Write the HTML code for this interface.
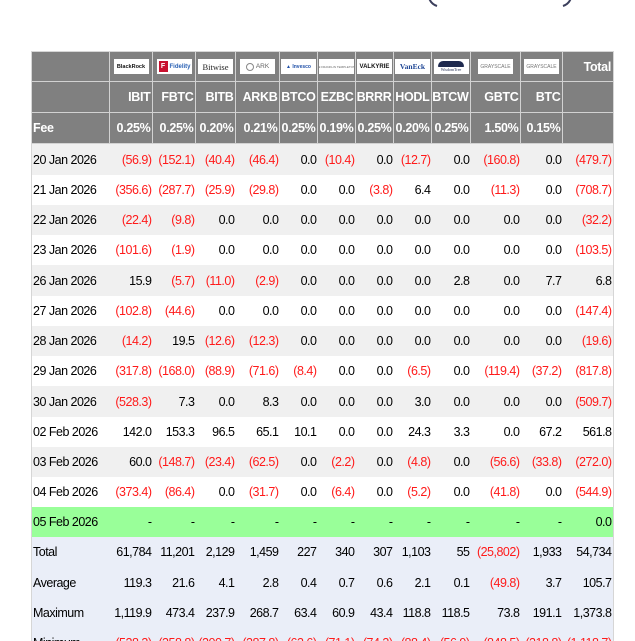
<!DOCTYPE html>
<html><head><meta charset="utf-8">
<style>
html,body{margin:0;padding:0;background:#fff;overflow:hidden;width:635px;height:641px;}
#wrap{position:relative;width:635px;height:641px;overflow:hidden;font-family:"Liberation Sans",Arial,sans-serif;font-size:12.5px;letter-spacing:-0.5px;color:#000;background:#fff;}
.row{position:absolute;left:31px;width:583px;display:flex;box-sizing:border-box;border-left:1px solid #d6d6d6;}
.c{box-sizing:border-box;flex:none;text-align:right;padding-right:1.5px;white-space:nowrap;overflow:visible;display:flex;align-items:center;justify-content:flex-end;}
.c:first-child{justify-content:flex-start;padding-left:1px;}
.c:last-child{border-right:1px solid #d6d6d6;}
.w0{width:78px}.w1{width:43px}.w2{width:43px}.w3{width:40px}.w4{width:44px}.w5{width:38px}.w6{width:38px}.w7{width:38px}.w8{width:38px}.w9{width:39px}.w10{width:50px}.w11{width:42px}.w12{width:51px}
.h{background:#808080;color:#fff;font-weight:bold;font-size:12.5px;letter-spacing:-0.3px;}
.h .c{border-right:1px solid #d2d2d2;border-bottom:1px solid #d2d2d2;}
.h .c:last-child{border-right:1px solid #d6d6d6;}
.g{background:#f0f0f0;}
.wt{background:#fff;}
.gr{background:#99ff99;}
.s{background:#eaeef8;}
.r{color:#ff1a1a;}
.logo .c{justify-content:center;padding:0;}
.logo .c:last-child{justify-content:flex-end;padding-right:2px;}
.lg{width:35px;height:15px;background:#fff;display:flex;align-items:center;justify-content:center;overflow:hidden;font-weight:bold;letter-spacing:0;}
</style></head><body>
<div id="wrap">
<svg width="635" height="12" style="position:absolute;left:0;top:0">
<path d="M429,-2 Q431,4 437,6" stroke="#3b3f5c" stroke-width="2" fill="none"/>
<path d="M571,-2 Q569,4 563,6" stroke="#3b3f5c" stroke-width="2" fill="none"/>
</svg>

<div class="row h logo" style="top:51px;height:31px;border-top:1px solid #d6d6d6;">
<div class="c w0"></div>
<div class="c w1"><div class="lg" style="font-size:5.5px;color:#111;">BlackRock</div></div>
<div class="c w2"><div class="lg" style="justify-content:flex-start;"><span style="display:inline-block;width:9px;height:11px;background:#c8102e;color:#fff;font-size:7px;text-align:center;line-height:11px;margin-left:2px;">F</span><span style="font-size:6px;color:#2a62b5;margin-left:2px;">Fidelity</span></div></div>
<div class="c w3"><div class="lg" style="font-family:'Liberation Serif',serif;font-weight:normal;font-size:8.5px;color:#222;">Bitwise</div></div>
<div class="c w4"><div class="lg" style="font-size:6.5px;color:#666;font-weight:normal;"><span style="display:inline-block;width:8px;height:8px;border:1px solid #888;border-radius:50%;margin-right:2px;box-sizing:border-box;"></span>ARK</div></div>
<div class="c w5"><div class="lg" style="font-size:5px;color:#2050a8;">▲ Invesco</div></div>
<div class="c w6"><div class="lg" style="font-size:3px;color:#666;font-weight:normal;">⊞ FRANKLIN TEMPLETON</div></div>
<div class="c w7"><div class="lg" style="font-size:6px;color:#111;">VALKYRIE</div></div>
<div class="c w8"><div class="lg" style="font-family:'Liberation Serif',serif;font-size:7.5px;color:#1d4594;">VanEck</div></div>
<div class="c w9"><div class="lg" style="flex-direction:column;"><span style="display:block;width:26px;height:6px;background:#1f2a4f;border-radius:6px 6px 1px 1px;"></span><span style="font-family:'Liberation Serif',serif;font-size:4px;color:#1f2a4f;font-weight:normal;">WisdomTree</span></div></div>
<div class="c w10"><div class="lg" style="font-size:5px;color:#777;font-weight:normal;">GRAYSCALE</div></div>
<div class="c w11"><div class="lg" style="font-size:5px;color:#777;font-weight:normal;">GRAYSCALE</div></div>
<div class="c w12">Total</div>
</div>

<div class="row h" style="top:82px;height:31px;">
<div class="c w0"></div><div class="c w1">IBIT</div><div class="c w2">FBTC</div><div class="c w3">BITB</div><div class="c w4">ARKB</div><div class="c w5">BTCO</div><div class="c w6">EZBC</div><div class="c w7">BRRR</div><div class="c w8">HODL</div><div class="c w9">BTCW</div><div class="c w10">GBTC</div><div class="c w11">BTC</div><div class="c w12"></div>
</div>
<div class="row h" style="top:113px;height:31px;">
<div class="c w0">Fee</div><div class="c w1">0.25%</div><div class="c w2">0.25%</div><div class="c w3">0.20%</div><div class="c w4">0.21%</div><div class="c w5">0.25%</div><div class="c w6">0.19%</div><div class="c w7">0.25%</div><div class="c w8">0.20%</div><div class="c w9">0.25%</div><div class="c w10">1.50%</div><div class="c w11">0.15%</div><div class="c w12"></div>
</div>

<div class="row g" style="top:144px;height:31px;"><div class="c w0">20 Jan 2026</div><div class="c w1 r">(56.9)</div><div class="c w2 r">(152.1)</div><div class="c w3 r">(40.4)</div><div class="c w4 r">(46.4)</div><div class="c w5">0.0</div><div class="c w6 r">(10.4)</div><div class="c w7">0.0</div><div class="c w8 r">(12.7)</div><div class="c w9">0.0</div><div class="c w10 r">(160.8)</div><div class="c w11">0.0</div><div class="c w12 r">(479.7)</div></div>
<div class="row wt" style="top:175px;height:30px;"><div class="c w0">21 Jan 2026</div><div class="c w1 r">(356.6)</div><div class="c w2 r">(287.7)</div><div class="c w3 r">(25.9)</div><div class="c w4 r">(29.8)</div><div class="c w5">0.0</div><div class="c w6">0.0</div><div class="c w7 r">(3.8)</div><div class="c w8">6.4</div><div class="c w9">0.0</div><div class="c w10 r">(11.3)</div><div class="c w11">0.0</div><div class="c w12 r">(708.7)</div></div>
<div class="row g" style="top:205px;height:30px;"><div class="c w0">22 Jan 2026</div><div class="c w1 r">(22.4)</div><div class="c w2 r">(9.8)</div><div class="c w3">0.0</div><div class="c w4">0.0</div><div class="c w5">0.0</div><div class="c w6">0.0</div><div class="c w7">0.0</div><div class="c w8">0.0</div><div class="c w9">0.0</div><div class="c w10">0.0</div><div class="c w11">0.0</div><div class="c w12 r">(32.2)</div></div>
<div class="row wt" style="top:235px;height:30px;"><div class="c w0">23 Jan 2026</div><div class="c w1 r">(101.6)</div><div class="c w2 r">(1.9)</div><div class="c w3">0.0</div><div class="c w4">0.0</div><div class="c w5">0.0</div><div class="c w6">0.0</div><div class="c w7">0.0</div><div class="c w8">0.0</div><div class="c w9">0.0</div><div class="c w10">0.0</div><div class="c w11">0.0</div><div class="c w12 r">(103.5)</div></div>
<div class="row g" style="top:265px;height:31px;"><div class="c w0">26 Jan 2026</div><div class="c w1">15.9</div><div class="c w2 r">(5.7)</div><div class="c w3 r">(11.0)</div><div class="c w4 r">(2.9)</div><div class="c w5">0.0</div><div class="c w6">0.0</div><div class="c w7">0.0</div><div class="c w8">0.0</div><div class="c w9">2.8</div><div class="c w10">0.0</div><div class="c w11">7.7</div><div class="c w12">6.8</div></div>
<div class="row wt" style="top:296px;height:30px;"><div class="c w0">27 Jan 2026</div><div class="c w1 r">(102.8)</div><div class="c w2 r">(44.6)</div><div class="c w3">0.0</div><div class="c w4">0.0</div><div class="c w5">0.0</div><div class="c w6">0.0</div><div class="c w7">0.0</div><div class="c w8">0.0</div><div class="c w9">0.0</div><div class="c w10">0.0</div><div class="c w11">0.0</div><div class="c w12 r">(147.4)</div></div>
<div class="row g" style="top:326px;height:30px;"><div class="c w0">28 Jan 2026</div><div class="c w1 r">(14.2)</div><div class="c w2">19.5</div><div class="c w3 r">(12.6)</div><div class="c w4 r">(12.3)</div><div class="c w5">0.0</div><div class="c w6">0.0</div><div class="c w7">0.0</div><div class="c w8">0.0</div><div class="c w9">0.0</div><div class="c w10">0.0</div><div class="c w11">0.0</div><div class="c w12 r">(19.6)</div></div>
<div class="row wt" style="top:356px;height:30px;"><div class="c w0">29 Jan 2026</div><div class="c w1 r">(317.8)</div><div class="c w2 r">(168.0)</div><div class="c w3 r">(88.9)</div><div class="c w4 r">(71.6)</div><div class="c w5 r">(8.4)</div><div class="c w6">0.0</div><div class="c w7">0.0</div><div class="c w8 r">(6.5)</div><div class="c w9">0.0</div><div class="c w10 r">(119.4)</div><div class="c w11 r">(37.2)</div><div class="c w12 r">(817.8)</div></div>
<div class="row g" style="top:386px;height:31px;"><div class="c w0">30 Jan 2026</div><div class="c w1 r">(528.3)</div><div class="c w2">7.3</div><div class="c w3">0.0</div><div class="c w4">8.3</div><div class="c w5">0.0</div><div class="c w6">0.0</div><div class="c w7">0.0</div><div class="c w8">3.0</div><div class="c w9">0.0</div><div class="c w10">0.0</div><div class="c w11">0.0</div><div class="c w12 r">(509.7)</div></div>
<div class="row wt" style="top:417px;height:30px;"><div class="c w0">02 Feb 2026</div><div class="c w1">142.0</div><div class="c w2">153.3</div><div class="c w3">96.5</div><div class="c w4">65.1</div><div class="c w5">10.1</div><div class="c w6">0.0</div><div class="c w7">0.0</div><div class="c w8">24.3</div><div class="c w9">3.3</div><div class="c w10">0.0</div><div class="c w11">67.2</div><div class="c w12">561.8</div></div>
<div class="row g" style="top:447px;height:30px;"><div class="c w0">03 Feb 2026</div><div class="c w1">60.0</div><div class="c w2 r">(148.7)</div><div class="c w3 r">(23.4)</div><div class="c w4 r">(62.5)</div><div class="c w5">0.0</div><div class="c w6 r">(2.2)</div><div class="c w7">0.0</div><div class="c w8 r">(4.8)</div><div class="c w9">0.0</div><div class="c w10 r">(56.6)</div><div class="c w11 r">(33.8)</div><div class="c w12 r">(272.0)</div></div>
<div class="row wt" style="top:477px;height:30px;"><div class="c w0">04 Feb 2026</div><div class="c w1 r">(373.4)</div><div class="c w2 r">(86.4)</div><div class="c w3">0.0</div><div class="c w4 r">(31.7)</div><div class="c w5">0.0</div><div class="c w6 r">(6.4)</div><div class="c w7">0.0</div><div class="c w8 r">(5.2)</div><div class="c w9">0.0</div><div class="c w10 r">(41.8)</div><div class="c w11">0.0</div><div class="c w12 r">(544.9)</div></div>
<div class="row gr" style="top:507px;height:30px;"><div class="c w0">05 Feb 2026</div><div class="c w1">-</div><div class="c w2">-</div><div class="c w3">-</div><div class="c w4">-</div><div class="c w5">-</div><div class="c w6">-</div><div class="c w7">-</div><div class="c w8">-</div><div class="c w9">-</div><div class="c w10">-</div><div class="c w11">-</div><div class="c w12">0.0</div></div>
<div class="row s" style="top:537px;height:30px;"><div class="c w0">Total</div><div class="c w1">61,784</div><div class="c w2">11,201</div><div class="c w3">2,129</div><div class="c w4">1,459</div><div class="c w5">227</div><div class="c w6">340</div><div class="c w7">307</div><div class="c w8">1,103</div><div class="c w9">55</div><div class="c w10 r">(25,802)</div><div class="c w11">1,933</div><div class="c w12">54,734</div></div>
<div class="row s" style="top:567px;height:31px;"><div class="c w0">Average</div><div class="c w1">119.3</div><div class="c w2">21.6</div><div class="c w3">4.1</div><div class="c w4">2.8</div><div class="c w5">0.4</div><div class="c w6">0.7</div><div class="c w7">0.6</div><div class="c w8">2.1</div><div class="c w9">0.1</div><div class="c w10 r">(49.8)</div><div class="c w11">3.7</div><div class="c w12">105.7</div></div>
<div class="row s" style="top:598px;height:30px;"><div class="c w0">Maximum</div><div class="c w1">1,119.9</div><div class="c w2">473.4</div><div class="c w3">237.9</div><div class="c w4">268.7</div><div class="c w5">63.4</div><div class="c w6">60.9</div><div class="c w7">43.4</div><div class="c w8">118.8</div><div class="c w9">118.5</div><div class="c w10">73.8</div><div class="c w11">191.1</div><div class="c w12">1,373.8</div></div>
<div class="row s" style="top:628px;height:30px;"><div class="c w0">Minimum</div><div class="c w1 r">(528.3)</div><div class="c w2 r">(358.8)</div><div class="c w3 r">(200.7)</div><div class="c w4 r">(287.8)</div><div class="c w5 r">(63.6)</div><div class="c w6 r">(71.1)</div><div class="c w7 r">(74.3)</div><div class="c w8 r">(88.4)</div><div class="c w9 r">(56.9)</div><div class="c w10 r">(848.5)</div><div class="c w11 r">(218.8)</div><div class="c w12 r">(1,118.7)</div></div>
</div>
</body></html>
